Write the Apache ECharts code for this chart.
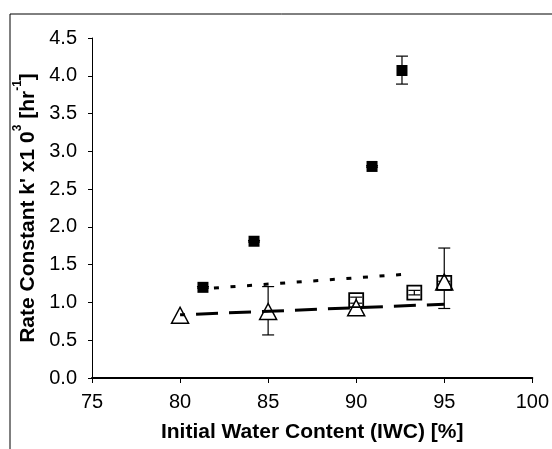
<!DOCTYPE html>
<html>
<head>
<meta charset="utf-8">
<script src="https://cdn.jsdelivr.net/npm/echarts@6/dist/echarts.min.js"></script>
<style>
html,body{margin:0;padding:0;background:#fff;}
#c{width:552px;height:449px;}
</style>
</head>
<body>
<div id="c"></div>
<script>
// ---- data ----
var xTicks = [75, 80, 85, 90, 95, 100];
var yTicks = [0, 0.5, 1, 1.5, 2, 2.5, 3, 3.5, 4, 4.5];

// filled squares
var fsX = [81.3, 84.2, 90.9, 92.6];
var fsY = [1.20, 1.81, 2.80, 4.07];
var fsLo = [1.19, 1.80, 2.79, 3.89];
var fsHi = [1.21, 1.82, 2.81, 4.26];

// open squares
var osX = [90.0, 93.3, 95.0];
var osY = [1.03, 1.13, 1.26];
var osLo = [0.99, 1.10, 1.24];
var osHi = [1.07, 1.16, 1.28];

// open triangles
var trX = [80.0, 85.0, 90.0, 95.0];
var trY = [0.83, 0.88, 0.93, 1.27];
var trLo = [0.83, 0.57, 0.93, 0.92];
var trHi = [0.83, 1.21, 0.93, 1.72];

// trend lines
var dotX = [81.3, 92.6];
var dotY = [1.18, 1.37];
var dashX = [80.0, 95.0];
var dashY = [0.836, 0.977];

function pairs(xs, ys) { return xs.map(function (x, i) { return [x, ys[i]]; }); }
function errs(xs, lo, hi) { return xs.map(function (x, i) { return [x, lo[i], hi[i]]; }); }

function errRender(params, api) {
  var x = api.value(0), lo = api.value(1), hi = api.value(2);
  if (hi - lo < 1e-9) return null;
  var a = api.coord([x, hi]), b = api.coord([x, lo]);
  var w = 6;
  var st = { stroke: '#000', lineWidth: 1.2 };
  return {
    type: 'group',
    children: [
      { type: 'line', shape: { x1: a[0], y1: a[1], x2: b[0], y2: b[1] }, style: st },
      { type: 'line', shape: { x1: a[0] - w, y1: a[1], x2: a[0] + w, y2: a[1] }, style: st },
      { type: 'line', shape: { x1: b[0] - w, y1: b[1], x2: b[0] + w, y2: b[1] }, style: st }
    ]
  };
}

var chart = echarts.init(document.getElementById('c'), null, { renderer: 'canvas' });
var font = 'Liberation Sans, Arial, sans-serif';

chart.setOption({
  animation: false,
  backgroundColor: '#fff',
  graphic: [{
    type: 'rect', left: 7.5, top: 11.5, z: 100,
    shape: { x: 0, y: 0, width: 600, height: 500 },
    style: { fill: 'none', stroke: '#000', lineWidth: 1 }
  }],
  grid: { left: 92, right: 17, top: 38, bottom: 71, containLabel: false },
  xAxis: {
    type: 'value', min: xTicks[0], max: xTicks[xTicks.length - 1], interval: 5,
    name: 'Initial Water Content (IWC) [%]',
    nameLocation: 'middle', nameGap: 44,
    nameTextStyle: { fontFamily: font, fontSize: 21, fontWeight: 'bold', color: '#000' },
    axisLine: { onZero: false, lineStyle: { color: '#000', width: 2 } },
    axisTick: { show: true, length: 5, lineStyle: { color: '#000', width: 1 } },
    axisLabel: { margin: 14, fontFamily: font, fontSize: 20, color: '#000' },
    splitLine: { show: false }
  },
  yAxis: {
    type: 'value', min: yTicks[0], max: yTicks[yTicks.length - 1], interval: 0.5,
    name: '{a|Rate Constant k\' x1 0}{s|3}{a| [hr}{s|-1}{a|]}',
    nameLocation: 'middle', nameGap: 52, nameRotate: 90,
    nameTextStyle: {
      fontFamily: font, fontSize: 21, fontWeight: 'bold', color: '#000',
      rich: {
        a: { fontFamily: font, fontSize: 21, fontWeight: 'bold', color: '#000', lineHeight: 27, verticalAlign: 'bottom' },
        s: { fontFamily: font, fontSize: 12, fontWeight: 'bold', color: '#000', lineHeight: 27, verticalAlign: 'top' }
      }
    },
    axisLine: { show: true, lineStyle: { color: '#000', width: 1 } },
    axisTick: { show: true, length: 4, lineStyle: { color: '#000', width: 1 } },
    axisLabel: { margin: 15, fontFamily: font, fontSize: 20, color: '#000',
      formatter: function (v) { return v.toFixed(1); } },
    splitLine: { show: false }
  },
  series: [
    { type: 'custom', renderItem: errRender, data: errs(trX, trLo, trHi), z: 1, encode: { x: 0, y: [1, 2] } },
    { type: 'custom', renderItem: errRender, data: errs(osX, osLo, osHi), z: 1, encode: { x: 0, y: [1, 2] } },
    { type: 'custom', renderItem: errRender, data: errs(fsX, fsLo, fsHi), z: 1, encode: { x: 0, y: [1, 2] } },
    { type: 'scatter', data: pairs(trX, trY), symbol: 'triangle', symbolSize: [17, 16], z: 2,
      itemStyle: { color: '#fff', borderColor: '#000', borderWidth: 1.5, opacity: 1 } },
    { type: 'scatter', data: pairs(osX, osY), symbol: 'rect', symbolSize: 14, z: 3,
      itemStyle: { color: 'rgba(255,255,255,0)', borderColor: '#000', borderWidth: 1.8, opacity: 1 } },
    { type: 'scatter', data: pairs(fsX, fsY), symbol: 'rect', symbolSize: 11, z: 3,
      itemStyle: { color: '#000', opacity: 1 } },
    { type: 'line', data: pairs(dotX, dotY), symbol: 'none', z: 4,
      lineStyle: { color: '#000', width: 3, type: [5, 11.6], dashOffset: 5.6, cap: 'butt' } },
    { type: 'line', data: pairs(dashX, dashY), symbol: 'none', z: 4,
      lineStyle: { color: '#000', width: 3, type: [22, 11], dashOffset: 17, cap: 'butt' } }
  ]
});
</script>
</body>
</html>
